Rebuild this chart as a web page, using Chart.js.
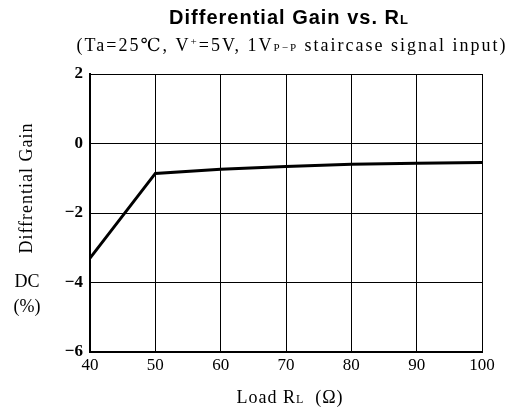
<!DOCTYPE html>
<html><head><meta charset="utf-8">
<script src="https://cdn.jsdelivr.net/npm/chart.js@4/dist/chart.umd.min.js"></script>
<style>html,body{margin:0;padding:0;background:#fff}#wrap{width:520px;height:413px}</style>
</head><body><div id="wrap"><canvas id="c" width="520" height="413"></canvas></div>
<script>
const loadR = [40, 50, 60, 70, 80, 90, 100];
const diffGain = [-3.3, -0.86, -0.74, -0.66, -0.6, -0.57, -0.55];
const yTicks = [-6, -4, -2, 0, 2];
const xTicks = [40, 50, 60, 70, 80, 90, 100];

const serif = '"Liberation Serif", "DejaVu Serif", serif';
const sans = '"Liberation Sans", Arial, sans-serif';

function drawRuns(ctx, runs, x, y, align, spacing) {
  ctx.letterSpacing = (spacing || 0) + 'px';
  let total = 0;
  runs.forEach(r => { ctx.font = r.font; total += ctx.measureText(r.t).width; });
  let cx = align === 'center' ? x - total / 2 : x;
  ctx.textAlign = 'left';
  runs.forEach(r => { ctx.font = r.font; ctx.fillText(r.t, cx, y + (r.dy || 0)); cx += ctx.measureText(r.t).width; });
  ctx.letterSpacing = '0px';
}

const textPlugin = {
  id: 'texts',
  afterDraw(chart) {
    const ctx = chart.ctx;
    ctx.save();
    ctx.fillStyle = '#000';
    ctx.textBaseline = 'middle';
    drawRuns(ctx, [
      {t: 'Differential Gain vs. R', font: 'bold 20px ' + sans},
      {t: 'L', font: 'bold 13px ' + sans, dy: 2}
    ], 289, 18, 'center', 1);
    drawRuns(ctx, [
      {t: '(Ta=25℃, V', font: '18px ' + serif},
      {t: '+', font: '11px ' + serif, dy: -4},
      {t: '=5V, 1V', font: '18px ' + serif},
      {t: 'P−P', font: '11px ' + serif, dy: 2},
      {t: ' staircase signal input)', font: '18px ' + serif}
    ], 292, 46, 'center', 2);
    // y title
    ctx.save();
    ctx.translate(27, 188);
    ctx.rotate(-Math.PI / 2);
    drawRuns(ctx, [{t: 'Diffrential Gain', font: '18px ' + serif}], 0, 0, 'center', 1);
    ctx.restore();
    ctx.font = '18px ' + serif;
    ctx.textAlign = 'center';
    ctx.fillText('DC', 27, 282);
    ctx.fillText('(%)', 27, 307);
    // x title
    drawRuns(ctx, [
      {t: 'Load R', font: '18px ' + serif},
      {t: 'L', font: '12px ' + serif, dy: 2},
      {t: '  (Ω)', font: '18px ' + serif}
    ], 290, 398, 'center', 1);
    ctx.restore();
  }
};

new Chart(document.getElementById('c'), {
  type: 'line',
  data: {
    datasets: [{
      data: loadR.map((x, i) => ({x: x, y: diffGain[i]})),
      borderColor: '#000',
      borderWidth: 3,
      pointRadius: 0,
      tension: 0,
      fill: false
    }]
  },
  options: {
    responsive: false,
    animation: false,
    layout: {padding: {left: 0, top: 74, right: 38, bottom: 0}},
    plugins: {legend: {display: false}, tooltip: {enabled: false}, title: {display: false}},
    scales: {
      x: {
        type: 'linear', min: 40, max: 100,
        afterBuildTicks(s) { s.ticks = xTicks.map(v => ({value: v})); },
        afterFit(s) { s.height = 61; },
        grid: {color: '#000', lineWidth: 1, drawTicks: false},
        border: {display: true, color: '#000', width: 2},
        ticks: {color: '#000', padding: 3, font: {family: serif, size: 17}, maxRotation: 0,
          callback: v => String(v)}
      },
      y: {
        type: 'linear', min: -6, max: 2,
        afterBuildTicks(s) { s.ticks = yTicks.map(v => ({value: v})); },
        afterFit(s) { s.width = 90; },
        grid: {color: '#000', lineWidth: 1, drawTicks: false},
        border: {display: true, color: '#000', width: 2},
        ticks: {color: '#000', padding: 7, font: {family: serif, size: 17, weight: 'bold'},
          callback: v => v < 0 ? '−' + Math.abs(v) : String(v)}
      }
    }
  },
  plugins: [textPlugin]
});
</script></body></html>
